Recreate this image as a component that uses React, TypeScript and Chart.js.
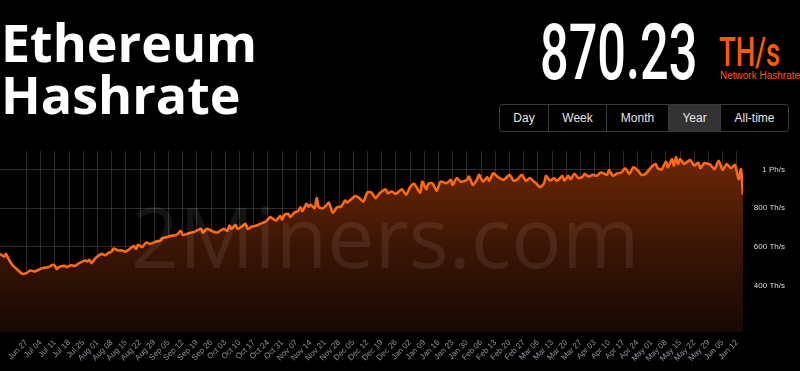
import React, { useEffect, useRef } from 'react';
import { Chart, registerables } from 'chart.js';

Chart.register(...registerables);

// Days since 2021-06-14 and network hashrate (TH/s)
const dayOffsets = [
  0, 2, 3, 4, 6, 9, 11, 13, 15, 17, 19, 21, 24, 26, 27, 28, 29, 32, 33, 35, 37, 39, 42, 43, 44, 45, 47, 50, 52, 53,
  55, 56, 58, 60, 62, 65, 66, 67, 68, 70, 72, 74, 77, 79, 80, 82, 84, 87, 89, 90, 93, 96, 99, 100, 102, 105, 107, 110, 112, 113,
  114, 116, 117, 119, 121, 122, 124, 126, 129, 131, 133, 134, 136, 138, 139, 140, 142, 143, 145, 147, 148, 149, 151, 152, 153, 155, 156, 157, 159, 161,
  162, 164, 166, 168, 170, 171, 173, 175, 177, 179, 181, 183, 185, 187, 190, 191, 193, 195, 198, 200, 202, 204, 207, 208, 210, 211, 213, 215, 216, 217,
  220, 222, 223, 225, 227, 230, 231, 233, 235, 236, 238, 240, 241, 243, 245, 248, 251, 253, 255, 257, 259, 261, 263, 264, 266, 268, 269, 271, 273, 274,
  275, 277, 278, 280, 281, 283, 285, 287, 288, 290, 292, 294, 296, 299, 300, 302, 304, 306, 308, 310, 312, 314, 316, 318, 321, 323, 324, 326, 328, 329,
  331, 332, 333, 334, 335, 337, 338, 340, 342, 344, 345, 347, 349, 350, 352, 354, 356, 358, 360, 362, 363, 364, 365, 366,
];
const hashrate = [
  564, 550, 564, 542, 508, 478, 461, 465, 478, 474, 482, 491, 496, 508, 503, 486, 496, 502, 496, 505, 502, 516, 530, 525, 533, 516, 542, 564, 557, 567,
  576, 592, 582, 582, 576, 599, 605, 589, 611, 599, 623, 616, 628, 633, 645, 650, 657, 662, 683, 662, 671, 679, 693, 674, 693, 679, 674, 693, 684, 710,
  693, 714, 693, 705, 719, 693, 705, 709, 723, 731, 754, 748, 736, 760, 740, 765, 771, 754, 777, 786, 805, 786, 822, 808, 817, 800, 852, 805, 800, 817,
  829, 777, 805, 808, 839, 829, 846, 863, 852, 834, 882, 880, 852, 877, 898, 877, 886, 874, 898, 869, 908, 925, 880, 937, 898, 925, 929, 891, 911, 937,
  929, 946, 920, 955, 937, 946, 963, 920, 949, 972, 937, 960, 942, 980, 963, 946, 972, 942, 950, 972, 942, 955, 937, 929, 908, 929, 967, 942, 955, 942,
  946, 967, 942, 967, 949, 977, 955, 963, 977, 963, 972, 967, 984, 972, 997, 967, 980, 984, 1006, 977, 1011, 997, 972, 977, 1014, 1028, 1006, 1001, 1040, 1011,
  1053, 1020, 1063, 1028, 1053, 1028, 1035, 1048, 1020, 1035, 1006, 1033, 1028, 1023, 1001, 1045, 997, 1028, 1006, 1024, 985, 950, 1001, 870.23,
];

const firstTickDay = 13;
const tickLabels = [
  'Jun 27', 'Jul 04', 'Jul 11', 'Jul 18', 'Jul 25', 'Aug 01', 'Aug 08', 'Aug 15', 'Aug 22', 'Aug 29',
  'Sep 05', 'Sep 12', 'Sep 19', 'Sep 26', 'Oct 03', 'Oct 10', 'Oct 17', 'Oct 24', 'Oct 31', 'Nov 07',
  'Nov 14', 'Nov 21', 'Nov 28', 'Dec 05', 'Dec 12', 'Dec 19', 'Dec 26', 'Jan 02', 'Jan 09', 'Jan 16',
  'Jan 23', 'Jan 30', 'Feb 06', 'Feb 13', 'Feb 20', 'Feb 27', 'Mar 06', 'Mar 13', 'Mar 20', 'Mar 27',
  'Apr 03', 'Apr 10', 'Apr 17', 'Apr 24', 'May 01', 'May 08', 'May 15', 'May 22', 'May 29', 'Jun 05', 'Jun 12',
];
const yTickValues = [400, 600, 800, 1000];
const yTickLabels = ['400 Th/s', '600 Th/s', '800 Th/s', '1 Ph/s'];
const ranges = ['Day', 'Week', 'Month', 'Year', 'All-time'];
const activeRange = 'Year';
const currentValue = '870.23';

const rangeSegments = [
  { left: 499, width: 49 },
  { left: 548, width: 58 },
  { left: 606, width: 62 },
  { left: 668, width: 52 },
  { left: 720, width: 69 },
];

export default function App() {
  const canvasRef = useRef<HTMLCanvasElement | null>(null);

  useEffect(() => {
    if (!canvasRef.current) return;
    const points = dayOffsets.map((d, i) => ({ x: d, y: hashrate[i] }));
    const chart = new Chart(canvasRef.current, {
      type: 'line',
      data: {
        datasets: [
          {
            data: points,
            borderColor: '#ff6a10',
            borderWidth: 2.6,
            pointRadius: 0,
            tension: 0.25,
            fill: 'start',
            backgroundColor: (ctx: any) => {
              const { chart: ch } = ctx;
              const area = ch.chartArea;
              if (!area) return 'rgba(80,28,4,1)';
              const g = ch.ctx.createLinearGradient(0, area.top, 0, area.bottom);
              g.addColorStop(0, 'rgb(112,40,6)');
              g.addColorStop(0.5, 'rgb(62,22,4)');
              g.addColorStop(1, 'rgb(22,8,4)');
              return g;
            },
          },
        ],
      },
      options: {
        animation: false,
        responsive: true,
        maintainAspectRatio: false,
        layout: { padding: { top: 11, right: 15, left: 0, bottom: 0 } },
        plugins: { legend: { display: false }, tooltip: { enabled: false } },
        scales: {
          x: {
            type: 'linear',
            min: 0,
            max: 366,
            z: 1,
            afterBuildTicks: (scale: any) => {
              scale.ticks = tickLabels.map((_, i) => ({ value: firstTickDay + 7 * i }));
            },
            afterFit: (scale: any) => {
              scale.height = 39;
              scale.paddingLeft = 0;
              scale.paddingRight = 0;
            },
            grid: { color: 'rgba(255,255,255,0.17)', drawTicks: false, lineWidth: 1 },
            border: { display: false },
            ticks: {
              autoSkip: false,
              minRotation: 45,
              maxRotation: 45,
              padding: 6,
              color: '#8d949c',
              font: { size: 8, family: 'Liberation Sans, Arial, sans-serif' },
              callback: (_v: any, i: number) => tickLabels[i],
            },
          },
          y: {
            position: 'right',
            min: 161,
            max: 1095,
            z: 1,
            afterBuildTicks: (scale: any) => {
              scale.ticks = yTickValues.map((v) => ({ value: v }));
            },
            afterFit: (scale: any) => {
              scale.width = 42;
              scale.paddingTop = 0;
              scale.paddingBottom = 0;
            },
            grid: { color: 'rgba(255,255,255,0.17)', drawTicks: false },
            border: { display: false },
            ticks: {
              crossAlign: 'far',
              padding: 11,
              color: '#dddddd',
              font: { size: 8, family: 'Liberation Sans, Arial, sans-serif' },
              callback: (_v: any, i: number) => yTickLabels[i],
            },
          },
        },
      },
    } as any);
    return () => chart.destroy();
  }, []);

  return (
    <div
      style={{
        position: 'fixed',
        left: 0,
        top: 0,
        width: 800,
        height: 371,
        background: '#000',
        overflow: 'hidden',
        fontFamily: 'Liberation Sans, Arial, sans-serif',
      }}
    >
      <div
        style={{
          position: 'absolute',
          left: 1,
          top: 16,
          color: '#fff',
          fontFamily: '"Open Sans", sans-serif',
          fontWeight: 700,
          fontSize: 52,
          lineHeight: '52px',
          whiteSpace: 'nowrap',
        }}
      >
        <div>Ethereum</div>
        <div>Hashrate</div>
      </div>

      <div
        style={{
          position: 'absolute',
          left: 540,
          top: 15,
          color: '#fff',
          fontFamily: 'Roboto, sans-serif',
          fontWeight: 500,
          fontSize: 77,
          lineHeight: '77px',
          whiteSpace: 'nowrap',
          transform: 'scaleX(0.655)',
          transformOrigin: 'left top',
        }}
      >
        {currentValue}
      </div>
      <div
        style={{
          position: 'absolute',
          left: 719,
          top: 31.5,
          color: '#ff5a00',
          fontFamily: 'Roboto, sans-serif',
          fontWeight: 500,
          fontSize: 41,
          lineHeight: '41px',
          whiteSpace: 'nowrap',
          transform: 'scaleX(0.67)',
          transformOrigin: 'left top',
        }}
      >
        TH/s
      </div>
      <div
        style={{
          position: 'absolute',
          left: 720,
          top: 70.5,
          color: '#ff5a00',
          fontSize: 10,
          lineHeight: '10px',
          whiteSpace: 'nowrap',
        }}
      >
        Network Hashrate
      </div>

      <div
        style={{
          position: 'absolute',
          left: 499,
          top: 104,
          width: 290,
          height: 28,
          boxSizing: 'border-box',
          border: '1px solid #3a3a3a',
          borderRadius: 3,
        }}
      />
      {ranges.map((r, i) => (
        <div
          key={r}
          style={{
            position: 'absolute',
            left: rangeSegments[i].left + (i === 0 ? 1 : 0),
            top: 105,
            width: rangeSegments[i].width - (i === 0 ? 1 : 0) - (i === ranges.length - 1 ? 1 : 0),
            height: 26,
            boxSizing: 'border-box',
            borderLeft: i === 0 ? 'none' : '1px solid #3a3a3a',
            background: r === activeRange ? '#333333' : 'transparent',
            color: '#e6e6e6',
            fontSize: 12,
            lineHeight: '26px',
            textAlign: 'center',
            whiteSpace: 'nowrap',
          }}
        >
          {r}
        </div>
      ))}

      <div style={{ position: 'absolute', left: 0, top: 140, width: 800, height: 231 }}>
        <canvas ref={canvasRef} />
      </div>

      <div
        style={{
          position: 'absolute',
          left: 131,
          top: 194,
          color: 'rgba(255,255,255,0.08)',
          fontFamily: '"Open Sans", sans-serif',
          fontWeight: 400,
          fontSize: 84,
          lineHeight: '84px',
          whiteSpace: 'nowrap',
          pointerEvents: 'none',
        }}
      >
        2Miners.com
      </div>
    </div>
  );
}
